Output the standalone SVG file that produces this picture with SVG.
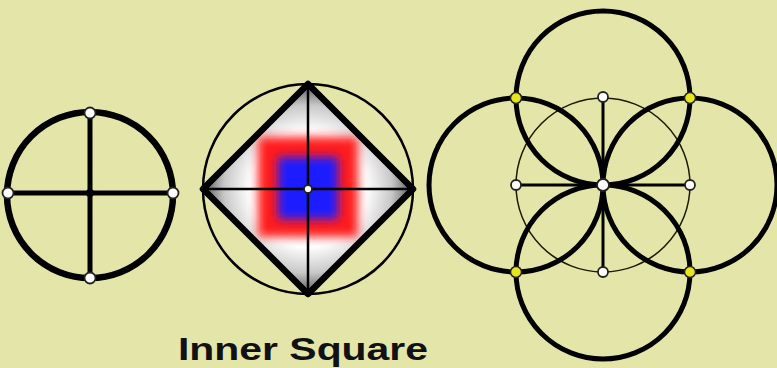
<svg xmlns="http://www.w3.org/2000/svg" width="777" height="368" viewBox="0 0 777 368">
<style>
.bg{fill:#e4e5a9}
.thick{fill:none;stroke:#000;stroke-width:6.5}
.big{fill:none;stroke:#000;stroke-width:5}
.thin{fill:none;stroke:#000;stroke-width:2.5}
.hair{fill:none;stroke:#1a1a00;stroke-width:1.5}
.ln{stroke:#000;stroke-width:5;stroke-linecap:round}
.ln2{stroke:#000;stroke-width:2.5}
.ln3{stroke:#000;stroke-width:3}
.dot{fill:#fff;stroke:#222;stroke-width:1.8}
.ydot{fill:#e6e61a;stroke:#222;stroke-width:1.5}
.lbl{font-family:"Liberation Sans",Arial,sans-serif;font-weight:bold;font-size:32px;fill:#111}
</style>
<defs>
<radialGradient id="dg" cx="308" cy="189" r="105" gradientUnits="userSpaceOnUse">
<stop offset="0" stop-color="#ffffff"/>
<stop offset="0.55" stop-color="#ffffff"/>
<stop offset="0.8" stop-color="#c8c8c8"/>
<stop offset="1" stop-color="#555555"/>
</radialGradient>
<filter id="bl" x="-30%" y="-30%" width="160%" height="160%"><feGaussianBlur stdDeviation="5"/></filter>
<clipPath id="dc"><polygon points="308,84 413,189 308,294 203,189"/></clipPath>
</defs>
<rect class="bg" x="0" y="0" width="777" height="368"/>

<g id="node-cross-circle">
<circle class="thick" cx="90" cy="195" r="83"/>
<line class="ln" x1="90" y1="112" x2="90" y2="278"/>
<line class="ln" x1="8" y1="193" x2="173" y2="193"/>
<circle class="dot" cx="90" cy="113" r="5.5"/>
<circle class="dot" cx="90" cy="278" r="5.5"/>
<circle class="dot" cx="8" cy="193" r="5.5"/>
<circle class="dot" cx="173" cy="193" r="5.5"/>
<circle cx="90" cy="193" r="4" fill="#000"/>
</g>

<g id="node-inner-square">
<g clip-path="url(#dc)">
<polygon points="308,84 413,189 308,294 203,189" fill="url(#dg)"/>
<rect x="258" y="137" width="100" height="100" fill="#ff1a1a" filter="url(#bl)"/>
<rect x="278" y="157" width="60" height="62" fill="#1a1aff" filter="url(#bl)"/>
</g>
<circle class="thin" cx="308" cy="189" r="105"/>
<polygon class="thick" points="308,84 413,189 308,294 203,189" stroke-linejoin="round"/>
<line class="ln2" x1="308" y1="84" x2="308" y2="294"/>
<line class="ln2" x1="203" y1="189" x2="413" y2="189"/>
<circle class="dot" cx="308" cy="189" r="4"/>
<text class="lbl" x="178" y="360" textLength="250" lengthAdjust="spacingAndGlyphs">Inner Square</text>
</g>

<g id="node-four-circles">
<circle class="hair" cx="603" cy="185" r="87"/>
<circle class="big" cx="603" cy="98" r="87"/>
<circle class="big" cx="603" cy="272" r="87"/>
<circle class="big" cx="516" cy="185" r="87"/>
<circle class="big" cx="690" cy="185" r="87"/>
<line class="ln3" x1="603" y1="98" x2="603" y2="272"/>
<line class="ln3" x1="516" y1="185" x2="690" y2="185"/>
<circle class="dot" cx="603" cy="97" r="5"/>
<circle class="dot" cx="603" cy="272" r="5"/>
<circle class="dot" cx="516" cy="185" r="5"/>
<circle class="dot" cx="690" cy="185" r="5"/>
<circle class="dot" cx="603" cy="185" r="6"/>
<circle class="ydot" cx="516" cy="98" r="5.5"/>
<circle class="ydot" cx="690" cy="98" r="5.5"/>
<circle class="ydot" cx="516" cy="272" r="5.5"/>
<circle class="ydot" cx="690" cy="272" r="5.5"/>
</g>
<g id="connectors"/>
</svg>
